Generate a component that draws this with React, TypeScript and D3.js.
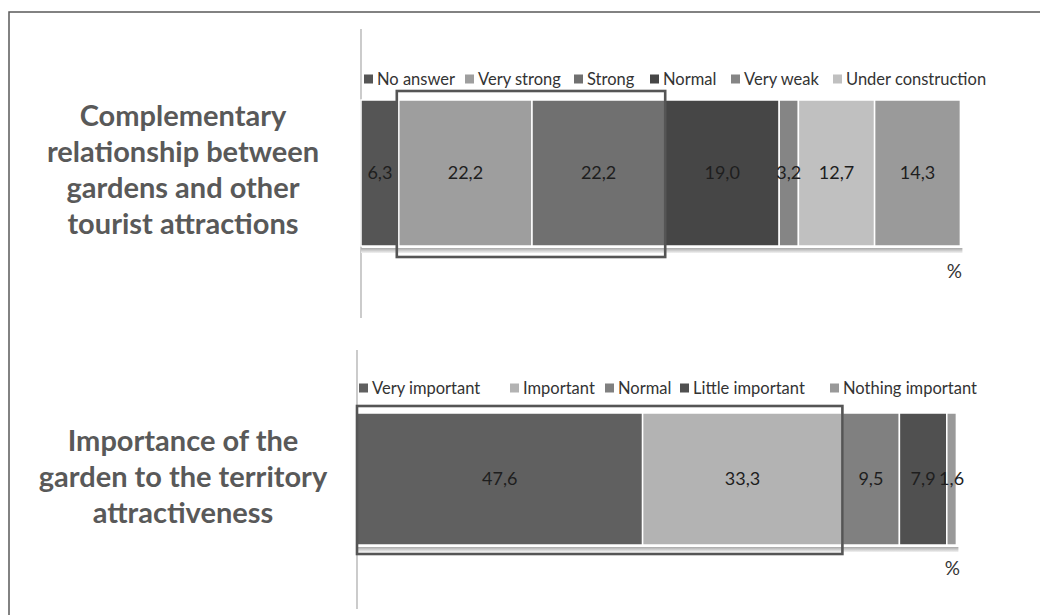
import React from "react";
import * as d3 from "d3";

// ---------- data ----------
const topTitle = ["Complementary", "relationship between", "gardens and other", "tourist attractions"];
const topCategories = ["No answer", "Very strong", "Strong", "Normal", "Very weak", "Under construction", ""];
const topValues = [6.3, 22.2, 22.2, 19.0, 3.2, 12.7, 14.3];

const bottomTitle = ["Importance of the", "garden to the territory", "attractiveness"];
const bottomCategories = ["Very important", "Important", "Normal", "Little important", "Nothing important"];
const bottomValues = [47.6, 33.3, 9.5, 7.9, 1.6];

const axisTicks = [0, 100];
const unitLabel = "%";

// ---------- styles ----------
const topColors = ["#555555", "#9e9e9e", "#707070", "#464646", "#858585", "#c0c0c0", "#9a9a9a"];
const bottomColors = ["#606060", "#b3b3b3", "#808080", "#505050", "#999999"];

const FONT = "Lato, 'Liberation Sans', sans-serif";

type PanelProps = {
  categories: string[];
  values: number[];
  colors: string[];
  axisX: number;
  axisTop: number;
  axisBottom: number;
  barTop: number;
  barBottom: number;
  legendY: number;
  legendX: number[];
  highlight: [number, number]; // indices of segments highlighted
  hlPad: { left: number; top: number; bottom: number };
  pctY: number;
  pctDx: number;
  id: string;
};

function Panel(p: PanelProps) {
  const x = d3.scaleLinear().domain([axisTicks[0], axisTicks[1]]).range([p.axisX, p.axisX + 600]);
  const ends = Array.from(d3.cumsum(p.values));
  const starts = ends.map((e, i) => e - p.values[i]);
  const total = ends[ends.length - 1];
  const midY = (p.barTop + p.barBottom) / 2;
  const hlX0 = x(starts[p.highlight[0]]) + p.hlPad.left;
  const hlX1 = x(ends[p.highlight[1]]);
  const fmt = (v: number) => v.toFixed(1).replace(".", ",");
  return (
    <g>
      <defs>
        <linearGradient id={"shadow" + p.id} x1="0" y1="0" x2="0" y2="1">
          <stop offset="0%" stopColor="#a8a8a8" />
          <stop offset="100%" stopColor="#f2f2f2" />
        </linearGradient>
      </defs>
      {/* axis */}
      <line x1={p.axisX} x2={p.axisX} y1={p.axisTop} y2={p.axisBottom} stroke="#b0b0b0" strokeWidth={1.3} />
      {/* shadow */}
      <rect
        x={x(0)}
        y={p.barBottom + 2}
        width={x(total) - x(0) + 2}
        height={5}
        fill={`url(#shadow${p.id})`}
      />
      {/* segments */}
      {p.values.map((v, i) => (
        <rect
          key={i}
          x={x(starts[i])}
          y={p.barTop}
          width={x(ends[i]) - x(starts[i])}
          height={p.barBottom - p.barTop}
          fill={p.colors[i]}
          stroke="#ffffff"
          strokeWidth={1.5}
        />
      ))}
      {/* labels */}
      {p.values.map((v, i) => (
        <text
          key={"l" + i}
          x={(x(starts[i]) + x(ends[i])) / 2}
          y={midY}
          dy="0.35em"
          textAnchor="middle"
          fontFamily={FONT}
          fontSize={18}
          fill="#1e1e1e"
        >
          {fmt(v)}
        </text>
      ))}
      {/* highlight box */}
      <rect
        x={hlX0}
        y={p.barTop - p.hlPad.top}
        width={hlX1 - hlX0}
        height={p.barBottom - p.barTop + p.hlPad.top + p.hlPad.bottom}
        fill="none"
        stroke="#555555"
        strokeWidth={2.6}
      />
      {/* legend */}
      {p.categories.map((c, i) =>
        c ? (
          <g key={"g" + i}>
            <rect x={p.legendX[i]} y={p.legendY - 4.5} width={9} height={9} fill={p.colors[i]} />
            <text
              x={p.legendX[i] + 13}
              y={p.legendY}
              dy="0.36em"
              fontFamily={FONT}
              fontSize={16.5}
              fill="#333333"
            >
              {c}
            </text>
          </g>
        ) : null
      )}
      <text
        x={x(total) + p.pctDx}
        y={p.pctY}
        textAnchor="middle"
        fontFamily={FONT}
        fontSize={19}
        fill="#333333"
      >
        {unitLabel}
      </text>
    </g>
  );
}

function Title({ lines, cx, y0 }: { lines: string[]; cx: number; y0: number }) {
  return (
    <text textAnchor="middle" fontFamily={FONT} fontWeight={700} fontSize={29} fill="#595959">
      {lines.map((l, i) => (
        <tspan key={i} x={cx} y={y0 + i * 36}>
          {l}
        </tspan>
      ))}
    </text>
  );
}

export default function App() {
  return (
    <svg
      width={1040}
      height={615}
      style={{ position: "fixed", left: 0, top: 0, background: "#ffffff" }}
    >
      <rect x={0} y={0} width={1040} height={615} fill="#ffffff" />
      <rect x={9} y={12} width={1040} height={620} fill="none" stroke="#5a5a5a" strokeWidth={1.5} />
      <Title lines={topTitle} cx={183} y0={126} />
      <Title lines={bottomTitle} cx={183} y0={451} />
      <Panel
        id="a"
        categories={topCategories}
        values={topValues}
        colors={topColors}
        axisX={361}
        axisTop={29}
        axisBottom={318}
        barTop={100}
        barBottom={246}
        legendY={79}
        legendX={[364, 465, 574, 650, 731, 833]}
        highlight={[1, 2]}
        hlPad={{ left: -2, top: 9, bottom: 11 }}
        pctY={278}
        pctDx={-6}
      />
      <Panel
        id="b"
        categories={bottomCategories}
        values={bottomValues}
        colors={bottomColors}
        axisX={357}
        axisTop={350}
        axisBottom={609}
        barTop={413}
        barBottom={545}
        legendY={388}
        legendX={[359, 510, 605, 680, 830]}
        highlight={[0, 1]}
        hlPad={{ left: 0, top: 7, bottom: 9 }}
        pctY={575}
        pctDx={-4}
      />
    </svg>
  );
}
